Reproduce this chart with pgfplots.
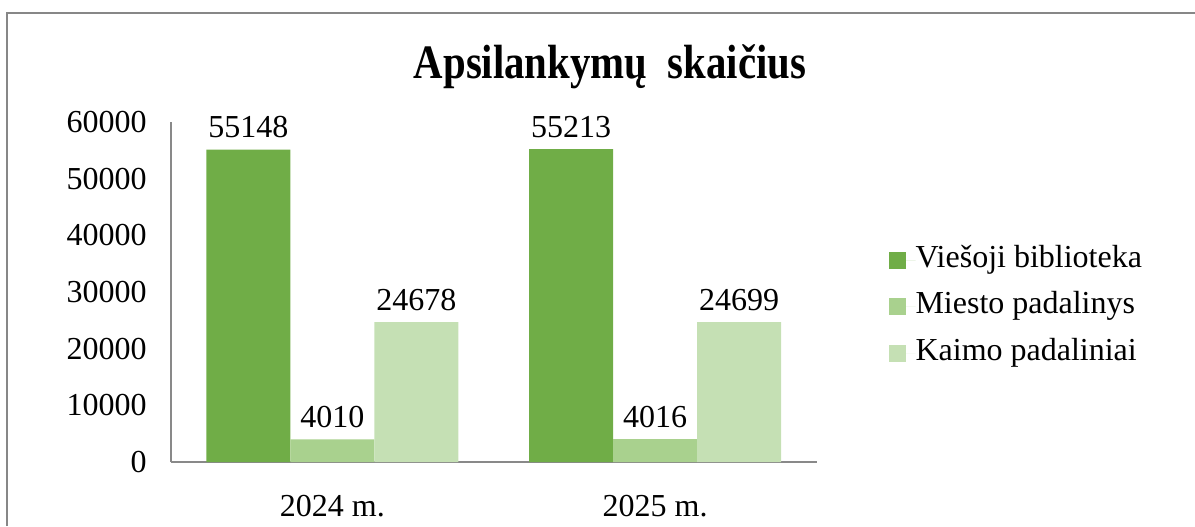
\documentclass[border=0pt]{standalone}
\usepackage{fontspec}
\setmainfont{Liberation Serif}
\usepackage{graphicx}
\usepackage{pgfplots}
\pgfplotsset{compat=1.18}
\definecolor{cA}{HTML}{70AD47}
\definecolor{cB}{HTML}{A9D18E}
\definecolor{cC}{HTML}{C5E0B4}
\definecolor{frameg}{HTML}{878787}
\definecolor{axisg}{HTML}{898989}
\begin{document}
\begin{tikzpicture}
\useasboundingbox (0pt,0pt) rectangle (597.5pt,263pt);
\draw[frameg, line width=1pt] (3.5pt,0pt) -- (3.5pt,256.5pt) -- (597.5pt,256.5pt);
\node[anchor=base, font=\fontsize{24}{28}\selectfont\bfseries] at (305pt,223.5pt) {\scalebox{0.85}[1]{Apsilankymų\ \ skaičius}};
\begin{axis}[
  at={(85.5pt,32pt)}, anchor=south west,
  scale only axis, width=322.75pt, height=170pt,
  ybar=0pt, bar width=42pt,
  xmin=-0.5, xmax=1.5, ymin=0, ymax=60000,
  xtick={0,1}, xticklabels={2024 m., 2025 m.},
  ytick={0,10000,20000,30000,40000,50000,60000},
  scaled y ticks=false,
  axis x line*=bottom, axis y line*=left,
  axis line style={axisg, line width=1pt, -},
  major tick length=0pt,
  /pgf/number format/assume math mode=true,
  /pgf/number format/1000 sep={},
  tick label style={font=\fontsize{16}{19}\selectfont, black},
  xticklabel style={yshift=-13pt},
  yticklabel style={xshift=-8.7pt},
  nodes near coords,
  every node near coord/.append style={font=\fontsize{16}{19}\selectfont, black, anchor=south, yshift=2.2pt},
  legend style={draw=none, fill=none, at={(1.111,0.456)}, anchor=west, inner sep=0pt,
    font=\fontsize{16}{19}\selectfont, row sep=8.25pt,
    nodes={inner sep=0pt, text height=11pt, text depth=4pt}},
  legend cell align=left,
  legend image code/.code={\fill[#1] (0pt,-4.25pt) rectangle (8.5pt,4.25pt); \path (8.5pt,0) -- (13.5pt,0);},
]
\addplot[fill=cA, draw=none] coordinates {(0,55148) (1,55213)};
\addplot[fill=cB, draw=none] coordinates {(0,4010) (1,4016)};
\addplot[fill=cC, draw=none] coordinates {(0,24678) (1,24699)};
\legend{Viešoji biblioteka, Miesto padalinys, Kaimo padaliniai}
\end{axis}
\end{tikzpicture}
\end{document}
